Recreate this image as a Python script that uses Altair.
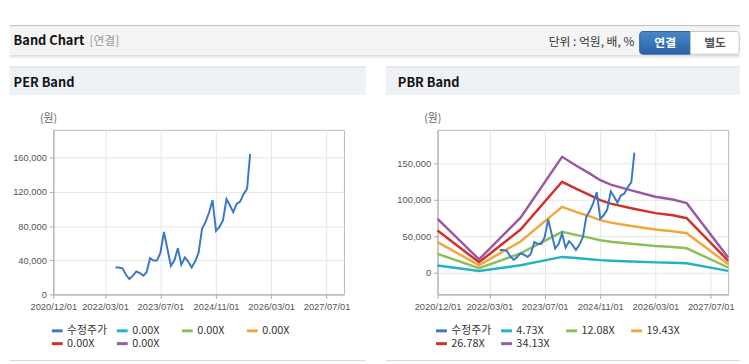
import altair as alt
import pandas as pd

# ---------------- data ----------------
price_dates = [
    "2022-06-01", "2022-07-01", "2022-08-01", "2022-09-01", "2022-10-01", "2022-11-01",
    "2022-12-01", "2023-01-01", "2023-02-01", "2023-03-01", "2023-04-01", "2023-05-01",
    "2023-06-01", "2023-07-01", "2023-08-01", "2023-09-01", "2023-10-01", "2023-11-01",
    "2023-12-01", "2024-01-01", "2024-02-01", "2024-03-01", "2024-04-01", "2024-05-01",
    "2024-06-01", "2024-07-01", "2024-08-01", "2024-09-01", "2024-10-01", "2024-11-01",
    "2024-12-01", "2025-01-01", "2025-02-01", "2025-03-01", "2025-04-01", "2025-05-01",
    "2025-06-01", "2025-07-01", "2025-08-01", "2025-08-28",
]
price_values = [
    31600, 31600, 30500, 23000, 18000, 22000,
    27000, 25000, 22000, 26000, 42400, 39700,
    39700, 49000, 73200, 53000, 33500, 40000,
    54000, 34700, 43500, 38500, 31600, 38500,
    49000, 77000, 85000, 96000, 110600, 74400,
    79000, 86700, 111800, 104800, 96400, 106000,
    108700, 117500, 124000, 164600,
]

band_dates = [
    "2020-12-01", "2021-12-01", "2022-12-01", "2023-12-01", "2024-04-01", "2024-08-01",
    "2024-11-01", "2025-02-01", "2025-08-01", "2026-03-01", "2026-08-01", "2026-12-01",
    "2027-12-01",
]
band_4_73 = [10300, 2600, 10500, 22000, 20400, 18800, 17600, 16800, 15700, 14500, 13900, 13200, 2900]
band_12_08 = [26200, 6600, 26800, 56300, 52100, 48100, 44900, 42800, 40000, 37000, 35600, 33800, 7500]
band_19_43 = [42200, 10600, 43100, 90500, 83700, 77400, 72300, 68900, 64300, 59500, 57200, 54400, 12000]
band_26_78 = [58100, 14600, 59400, 124800, 115400, 106700, 99600, 94900, 88600, 81900, 78900, 75000, 16600]
band_34_13 = [74100, 18600, 75700, 159000, 147100, 136000, 127000, 121000, 113000, 104400, 100500, 95600, 21200]

pbr_names = ["수정주가", "4.73X", "12.08X", "19.43X", "26.78X", "34.13X"]
per_keys = ["수정주가", "p1", "p2", "p3", "p4", "p5"]
series_colors = ["#3a78c8", "#22b3c4", "#8dbf57", "#f3a63a", "#d3302b", "#9a58a5"]

x_tick_dates = [(2020, 12), (2022, 3), (2023, 7), (2024, 11), (2026, 3), (2027, 7)]
per_y_ticks = [0, 40000, 80000, 120000, 160000]
pbr_y_ticks = [0, 50000, 100000, 150000]
per_y_domain = [0, 192900]
pbr_y_domain = [-29300, 195900]

# ---------------- styling ----------------
KR = "Noto Sans CJK KR"
NUM = "Liberation Sans, Arial"
GRID = "#e6e6e6"
AXC = "#aaaaaa"
W, H = 295, 167
OX, OY = 52.3, 128.3        # left plot origin (window px)
ROX = 442.3                 # right plot origin x (window px)

one = alt.Data(values=[{"a": 1}])


def rect(x, x2, y, y2, ox, **kw):
    return alt.Chart(one).mark_rect(**kw).encode(
        x=alt.value(x - ox), x2=alt.value(x2 - ox),
        y=alt.value(y - OY), y2=alt.value(y2 - OY))


def hline(x, x2, y, ox, color, width=1):
    return alt.Chart(one).mark_rule(color=color, strokeWidth=width).encode(
        x=alt.value(x - ox), x2=alt.value(x2 - ox), y=alt.value(y - OY))


def text(x, y, s, ox, **kw):
    return alt.Chart(one).mark_text(text=s, baseline="middle", **kw).encode(
        x=alt.value(x - ox), y=alt.value(y - OY))


def dt(y, m, d=1):
    return alt.DateTime(year=y, month=m, date=d, utc=True)


x_scale = alt.Scale(type="utc", domain=[dt(2020, 12), dt(2027, 12)])
x_axis = alt.Axis(
    values=[dt(y, m) for y, m in x_tick_dates],
    labelExpr="utcFormat(datum.value, '%Y/%m/%d')",
    title=None, grid=True, gridColor=GRID, tickSize=4, tickColor=AXC,
    domainColor=AXC, labelFont=NUM, labelFontSize=9.5, labelColor="#555",
    labelPadding=3, labelFlush=False, labelOverlap=False)


def y_axis(vals):
    return alt.Axis(values=vals, format=",d", title=None, grid=True, gridColor=GRID,
                    tickSize=4, tickColor=AXC, domainColor=AXC, labelFont=NUM,
                    labelFontSize=9.5, labelColor="#555", labelPadding=3)


def legend(label_expr=None):
    kw = dict(title=None, orient="none", legendX=-3, legendY=197, columns=4,
              direction="horizontal", symbolType="stroke", symbolSize=121,
              symbolStrokeWidth=3, labelFont=KR, labelFontSize=11, labelColor="#333",
              columnPadding=3, rowPadding=0, gridAlign="all", labelOffset=3,
              padding=0, labelLimit=300)
    if label_expr:
        kw["labelExpr"] = label_expr
    return alt.Legend(**kw)


# ---------------- tables ----------------
price_df = pd.DataFrame({"date": price_dates, "value": price_values, "series": "수정주가"})
band_rows = []
for name, vals in zip(pbr_names[1:], [band_4_73, band_12_08, band_19_43, band_26_78, band_34_13]):
    for d, v in zip(band_dates, vals):
        band_rows.append({"date": d, "value": v, "series": name})
band_df = pd.DataFrame(band_rows)

# ---------------- left panel (PER) ----------------
per_color = alt.Color("series:N", scale=alt.Scale(domain=per_keys, range=series_colors),
                      legend=legend("datum.label == '수정주가' ? '수정주가' : '0.00X'"))

per_line = alt.Chart(price_df).mark_line(strokeWidth=2).encode(
    x=alt.X("date:T", scale=x_scale, axis=x_axis),
    y=alt.Y("value:Q", scale=alt.Scale(domain=per_y_domain, nice=False, zero=False),
            axis=y_axis(per_y_ticks)),
    color=per_color)

grad = alt.LinearGradient(gradient="linear", x1=0, x2=0, y1=0, y2=1,
                          stops=[alt.GradientStop(color="#4a88cb", offset=0),
                                 alt.GradientStop(color="#2a63a6", offset=1)])

left_deco = [
    rect(8, 749, 8, 364, OX, opacity=0),
    rect(8, 749, 22.5, 52.7, OX, fill="#f4f4f4"),
    hline(8, 749, 22.5, OX, "#bcbcbc"),
    hline(8, 749, 53.2, OX, "#cfcfcf"),
    hline(8, 749, 54.2, OX, "#e3e3e3"),
    hline(8, 749, 55.2, OX, "#f0f0f0"),
    text(12, 38.5, "Band Chart", OX, font=KR, fontSize=13, fontWeight="bold", color="#111", align="left"),
    text(89, 38.5, "[연결]", OX, font=KR, fontSize=12, color="#999", align="left"),
    text(642, 39.5, "단위 : 억원, 배, %", OX, font=KR, fontSize=12, color="#333", align="right"),
    rect(647.5, 699, 28.5, 51.5, OX, fill=grad, stroke="#2a5d9c", strokeWidth=1,
         cornerRadiusTopLeft=3, cornerRadiusBottomLeft=3),
    text(673.3, 40, "연결", OX, font=KR, fontSize=12, fontWeight="bold", color="#ffffff", align="center"),
    rect(699, 748.5, 28.5, 51.5, OX, fill="#ffffff", stroke="#c5c5c5", strokeWidth=1,
         cornerRadiusTopRight=3, cornerRadiusBottomRight=3),
    text(724, 40, "별도", OX, font=KR, fontSize=12, fontWeight="bold", color="#555", align="center"),
    rect(8, 369.5, 64.5, 93, OX, fill="#eef2f7"),
    hline(8, 369.5, 64.5, OX, "#d6d6d6"),
    text(12, 80.5, "PER Band", OX, font=KR, fontSize=13, fontWeight="bold", color="#111", align="left"),
    text(47.5, 117, "(원)", OX, font=KR, fontSize=11, color="#666", align="center"),
    hline(8, 369.5, 362.5, OX, "#d5d5d5"),
]

left = alt.layer(*left_deco, per_line).properties(width=W, height=H)

# ---------------- right panel (PBR) ----------------
pbr_color = alt.Color("series:N", scale=alt.Scale(domain=pbr_names, range=series_colors),
                      legend=legend())
pbr_x = alt.X("date:T", scale=x_scale, axis=x_axis)
pbr_y = alt.Y("value:Q", scale=alt.Scale(domain=pbr_y_domain, nice=False, zero=False),
              axis=y_axis(pbr_y_ticks))

pbr_bands = alt.Chart(band_df).mark_line(strokeWidth=2.5).encode(
    x=pbr_x, y=pbr_y, color=pbr_color, detail="series:N")
pbr_price = alt.Chart(price_df).mark_line(strokeWidth=2).encode(
    x=pbr_x, y=pbr_y, color=pbr_color)

right_deco = [
    rect(390, 749, 64.5, 93, ROX, fill="#eef2f7"),
    hline(390, 749, 64.5, ROX, "#d6d6d6"),
    text(402, 80.5, "PBR Band", ROX, font=KR, fontSize=13, fontWeight="bold", color="#111", align="left"),
    text(437.5, 117, "(원)", ROX, font=KR, fontSize=11, color="#666", align="center"),
    hline(390, 749, 362.5, ROX, "#d5d5d5"),
]

right = alt.layer(*right_deco, pbr_bands, pbr_price).properties(width=W, height=H)

chart = alt.hconcat(left, right, spacing=95, bounds="flush").resolve_scale(
    color="independent", x="independent", y="independent"
).properties(padding=0).configure_view(stroke="#b8b8b8")

chart.save("out.html", embed_options={"renderer": "svg", "actions": False})
